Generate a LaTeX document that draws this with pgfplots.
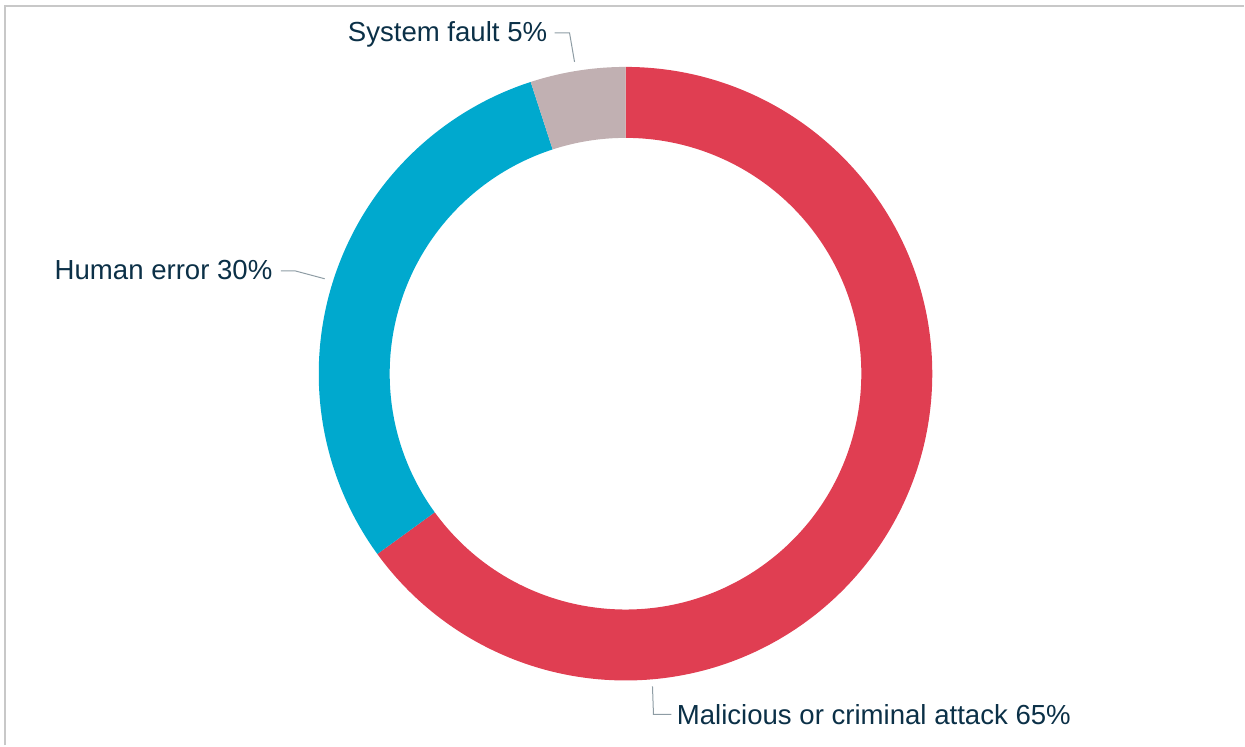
\documentclass[border=0pt]{standalone}
\usepackage{pgfplots}
\pgfplotsset{compat=1.18}
\usepackage{pgfplotstable}
\usepackage{fontspec}
\setmainfont{Liberation Sans}
\definecolor{cred}{HTML}{E03E52}
\definecolor{cblue}{HTML}{00A9CE}
\definecolor{cgrey}{HTML}{C1B0B2}
\definecolor{ctext}{HTML}{0B3047}
\definecolor{cline}{HTML}{8E9CA4}
\definecolor{cborder}{HTML}{C8C8C8}
\pgfplotstableread{
share color
65 cred
30 cblue
5 cgrey
}\donutdata
\begin{document}
\begin{tikzpicture}
\begin{axis}[
  hide axis, clip=false,
  x=0.5bp, y=0.5bp,
  xmin=0, xmax=1245, ymin=0, ymax=746,
]
\path (axis cs:0,0) (axis cs:1245,746);
% border (top and left)
\draw[cborder, line width=1bp] (axis cs:5,0) -- (axis cs:5,740) -- (axis cs:1245,740);
% donut
\pgfmathsetmacro{\cum}{0}
\pgfplotstablegetrowsof{\donutdata}
\pgfmathtruncatemacro{\nrows}{\pgfplotsretval-1}
\pgfplotsforeachungrouped \i in {0,...,\nrows}{%
  \pgfplotstablegetelem{\i}{share}\of{\donutdata}\let\val\pgfplotsretval
  \pgfplotstablegetelem{\i}{color}\of{\donutdata}\let\col\pgfplotsretval
  \pgfmathsetmacro{\aone}{90-3.6*\cum}
  \pgfmathsetmacro{\atwo}{90-3.6*(\cum+\val)}
  \edef\temp{\noexpand\fill[\col] (axis cs:626,372) ++(\aone:153.5bp) arc[start angle=\aone, end angle=\atwo, radius=153.5bp] -- ++(\atwo+180:35.5bp) arc[start angle=\atwo, end angle=\aone, radius=118bp] -- cycle;}
  \temp
  \pgfmathsetmacro{\cum}{\cum+\val}
  \global\let\cum\cum
}
% leader lines
\draw[cline, line width=0.5bp] (axis cs:555,713) -- (axis cs:570,713) -- (axis cs:575,684);
\draw[cline, line width=0.5bp] (axis cs:281,475) -- (axis cs:295,475) -- (axis cs:325,467);
\draw[cline, line width=0.5bp] (axis cs:653,59) -- (axis cs:654,31) -- (axis cs:672,31);
% labels
\node[anchor=base east, inner sep=0pt, text=ctext, font=\fontsize{13.8bp}{16bp}\selectfont] at (axis cs:548,704) {System fault 5\%};
\node[anchor=base east, inner sep=0pt, text=ctext, font=\fontsize{13.8bp}{16bp}\selectfont] at (axis cs:273,466) {Human error 30\%};
\node[anchor=base west, inner sep=0pt, text=ctext, font=\fontsize{13.8bp}{16bp}\selectfont] at (axis cs:677,21) {Malicious or criminal attack 65\%};
\end{axis}
\end{tikzpicture}
\end{document}
